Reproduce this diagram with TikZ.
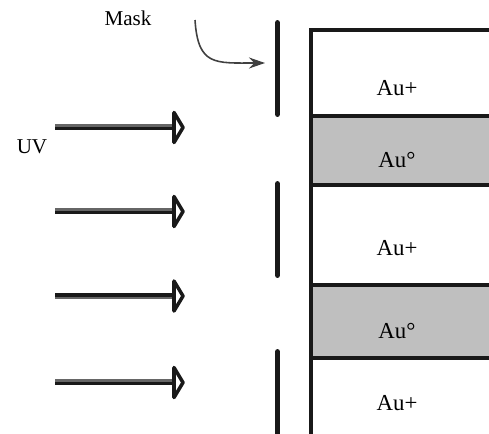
\documentclass[tikz,border=0pt]{standalone}
\usepackage{fontspec}
\setmainfont{Liberation Serif}
\usetikzlibrary{arrows.meta}

\begin{document}
\begin{tikzpicture}[x=0.02cm, y=-0.02cm, >={Stealth[length=3.2mm, width=2.2mm]},
    label/.style={inner sep=0pt, font=\fontsize{12}{14}\selectfont},
    layer/.style={inner sep=0pt, font=\fontsize{13}{15}\selectfont},
    maskbar/.style={line width=3.4pt, line cap=round, black!90},
    wall/.style={line width=2pt, black!90},
    band/.style={fill=gray!50, draw=black!90, line width=2.3pt},
    raydark/.style={line width=2pt, black!90},
    raygray/.style={line width=1.3pt, black!60},
    rayhead/.style={line width=2pt, black!90, fill=white, line join=round}]
    \useasboundingbox (0,0) rectangle (489,433);
    \clip (0,0) rectangle (489,433);
    % layers
    \draw[band] (311,116) rectangle (520,185);
    \draw[band] (311,285) rectangle (520,358);
    \draw[wall] (311,440) -- (311,30) -- (520,30);
    \node[layer] (au1) at (397,88)  {Au+};
    \node[layer] (au2) at (397,160) {Au°};
    \node[layer] (au3) at (397,248) {Au+};
    \node[layer] (au4) at (397,331) {Au°};
    \node[layer] (au5) at (397,403) {Au+};
    % mask
    \draw[maskbar] (277.5,23) -- (277.5,114);
    \draw[maskbar] (277.5,184) -- (277.5,275);
    \draw[maskbar] (277.5,352) -- (277.5,445);
    \node[label] (mask) at (128,18) {Mask};
    \coordinate (mtail) at (195,20);
    \coordinate (mtip)  at (265,63);
    \draw[->, black!75, line width=0.9pt] (mtail) .. controls (198,66) and (215,63) .. (mtip);
    % UV rays
    \node[label] (uv) at (32,147) {UV};
    \foreach \i/\y/\s in {1/127.5/1, 2/211.5/1, 3/296/-1, 4/382.5/1} {
      \coordinate (r\i s) at (55,\y);
      \coordinate (r\i e) at (174,\y);
      \draw[raygray] ([yshift=\s*1.2pt]r\i s) -- ([yshift=\s*1.2pt]r\i e);
      \draw[raydark] ([yshift=-\s*0.6pt]r\i s) -- ([yshift=-\s*0.6pt]r\i e);
      \draw[rayhead] ([shift={(0,-15)}]r\i e) -- ([shift={(9,0)}]r\i e)
        -- ([shift={(0,15)}]r\i e) -- cycle;
    }
\end{tikzpicture}
\end{document}
